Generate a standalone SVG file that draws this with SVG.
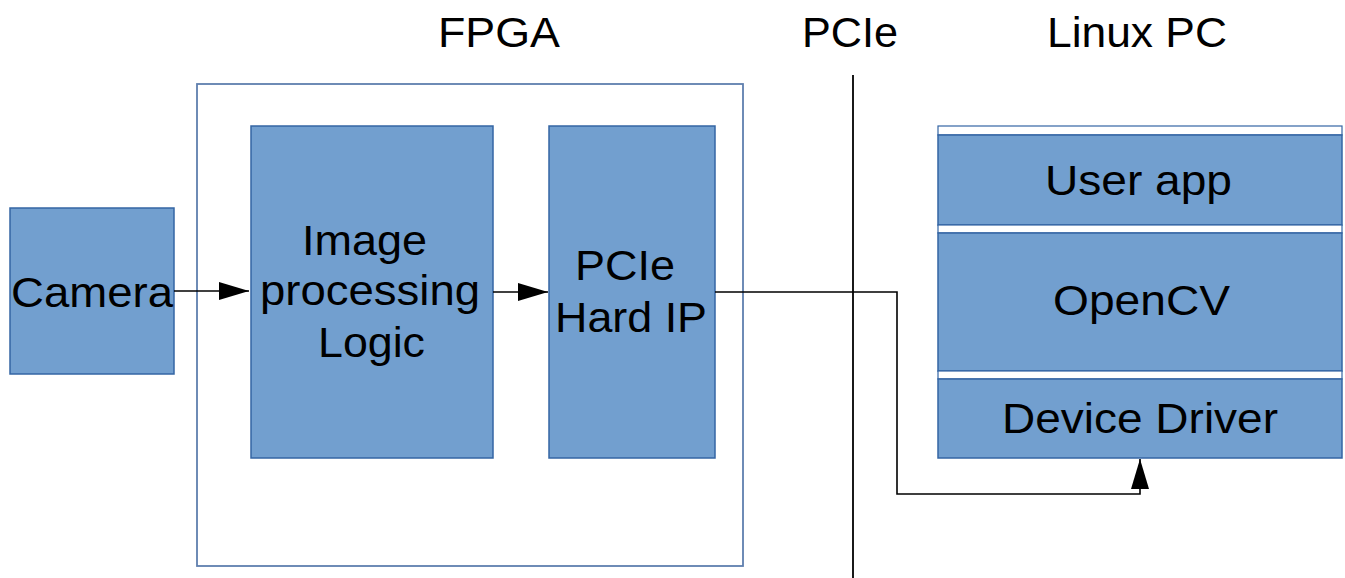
<svg xmlns="http://www.w3.org/2000/svg" width="1345" height="578" viewBox="0 0 1345 578">
  <style>
    .box { fill: #729fcf; stroke: #3465a4; stroke-width: 1.5; }
    .gap { fill: #ffffff; stroke: #3465a4; stroke-width: 1.2; }
    .frame { fill: #ffffff; stroke: #5f7fae; stroke-width: 1.8; }
    .lbl { font-family: "Liberation Sans", Arial, sans-serif; font-size: 42px; fill: #000000; text-anchor: start; }
    .wire { fill: none; stroke: #000000; stroke-width: 1.6; }
  </style>
  <defs>
    <marker id="arrow" markerUnits="userSpaceOnUse" markerWidth="31" markerHeight="20" refX="30" refY="9" orient="auto">
      <path d="M0,0 L30,9 L0,18 z" fill="#000000"/>
    </marker>
  </defs>

  <rect width="1345" height="578" fill="#ffffff"/>

  <!-- section titles -->
  <g id="titles">
    <text class="lbl" x="438" y="47" textLength="122" lengthAdjust="spacingAndGlyphs">FPGA</text>
    <text class="lbl" x="802" y="47" textLength="96" lengthAdjust="spacingAndGlyphs">PCIe</text>
    <text class="lbl" x="1047" y="47" textLength="180" lengthAdjust="spacingAndGlyphs">Linux PC</text>
  </g>

  <!-- PCIe boundary -->
  <g id="pcie-boundary">
    <line x1="853" y1="75" x2="853" y2="578" stroke="#000000" stroke-width="1.8"/>
  </g>

  <!-- FPGA enclosure -->
  <g id="fpga">
    <rect class="frame" x="197" y="84" width="546" height="482"/>
  </g>

  <g id="camera">
    <rect class="box" x="10" y="208" width="164" height="166"/>
    <text class="lbl" x="11" y="307" textLength="162" lengthAdjust="spacingAndGlyphs">Camera</text>
  </g>

  <g id="image-processing">
    <rect class="box" x="251" y="126" width="242" height="332"/>
    <text class="lbl" x="302" y="255" textLength="125" lengthAdjust="spacingAndGlyphs">Image</text>
    <text class="lbl" x="260" y="305" textLength="220" lengthAdjust="spacingAndGlyphs">processing</text>
    <text class="lbl" x="318" y="357" textLength="107" lengthAdjust="spacingAndGlyphs">Logic</text>
  </g>

  <g id="pcie-hard-ip">
    <rect class="box" x="549" y="126" width="166" height="332"/>
    <text class="lbl" x="575" y="280" textLength="100" lengthAdjust="spacingAndGlyphs">PCIe</text>
    <text class="lbl" x="555" y="332" textLength="152" lengthAdjust="spacingAndGlyphs">Hard IP</text>
  </g>

  <!-- host software stack -->
  <g id="linux-stack">
    <rect class="gap" x="938" y="126" width="404" height="9"/>
    <g id="user-app">
      <rect class="box" x="938" y="135" width="404" height="90"/>
      <text class="lbl" x="1045" y="195" textLength="187" lengthAdjust="spacingAndGlyphs">User app</text>
    </g>
    <rect class="gap" x="938" y="225" width="404" height="8"/>
    <g id="opencv">
      <rect class="box" x="938" y="233" width="404" height="138"/>
      <text class="lbl" x="1053" y="315" textLength="177" lengthAdjust="spacingAndGlyphs">OpenCV</text>
    </g>
    <rect class="gap" x="938" y="371" width="404" height="8"/>
    <g id="device-driver">
      <rect class="box" x="938" y="379" width="404" height="79"/>
      <text class="lbl" x="1002" y="433" textLength="276" lengthAdjust="spacingAndGlyphs">Device Driver</text>
    </g>
  </g>

  <!-- connectors -->
  <g id="connectors">
    <line class="wire" x1="174" y1="291" x2="249" y2="291" marker-end="url(#arrow)"/>
    <line class="wire" x1="493" y1="292" x2="548" y2="292" marker-end="url(#arrow)"/>
    <polyline class="wire" points="715,292 897,292 897,494 1140,494 1140,459" marker-end="url(#arrow)"/>
  </g>
</svg>
